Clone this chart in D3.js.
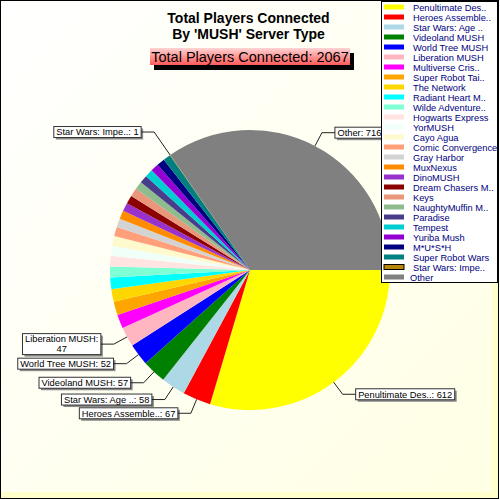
<!DOCTYPE html>
<html lang="en">
<head>
<meta charset="UTF-8">
<title>Total Players Connected</title>
<style>
  body { margin: 0; background: #fff; }
  svg { display: block; font-family: Arial, "Liberation Sans", sans-serif; }
</style>
</head>
<body>
<svg id="chart" width="500" height="500"></svg>
<script src="https://cdnjs.cloudflare.com/ajax/libs/d3/7.8.5/d3.min.js"></script>
<script>
// slice names as the legend shows them (already truncated)
const names = [
  "Penultimate Des..", "Heroes Assemble..", "Star Wars: Age ..", "Videoland MUSH",
  "World Tree MUSH", "Liberation MUSH", "Multiverse Cris..", "Super Robot Tai..",
  "The Network", "Radiant Heart M..", "Wilde Adventure..", "Hogwarts Express",
  "YorMUSH", "Cayo Agua", "Comic Convergence", "Gray Harbor", "MuxNexus",
  "DinoMUSH", "Dream Chasers M..", "Keys", "NaughtyMuffin M..", "Paradise",
  "Tempest", "Yuriba Mush", "M*U*S*H", "Super Robot Wars", "Star Wars: Impe..", "Other"
];
const players = [
  612, 67, 58, 57, 52, 47, 33, 32, 30, 28, 26, 25, 24, 23, 22, 21, 20,
  20, 20, 20, 19, 19, 19, 19, 19, 18, 1, 716
];
const colors = [
  "#ffff00", "#ff0000", "#add8e6", "#008000", "#0000ff", "#ffb6c1", "#ff00ff",
  "#ffa500", "#ffd700", "#00ffff", "#7fffd4", "#ffe4e1", "#f0fff8", "#fffacd",
  "#ffa07a", "#d3d3d3", "#ff8c00", "#9932cc", "#8b0000", "#e9967a", "#8fbc8f",
  "#483d8b", "#00ced1", "#9400d3", "#000080", "#008080", "#b8860b", "#808080"
];
// slices that get a callout label
const labeled = [
  "Penultimate Des..", "Heroes Assemble..", "Star Wars: Age ..", "Videoland MUSH",
  "World Tree MUSH", "Liberation MUSH", "Star Wars: Impe..", "Other"
];
const titleLines = ["Total Players Connected", "By 'MUSH' Server Type"];

const total = d3.sum(players);
const rows = names.map((n, i) => ({ name: n, value: players[i], color: colors[i] }));

const svg = d3.select("#chart");
const defs = svg.append("defs");

const bg = defs.append("linearGradient").attr("id", "bg")
  .attr("x1", 0).attr("y1", 0).attr("x2", 1).attr("y2", 1);
bg.append("stop").attr("offset", "0%").attr("stop-color", "#ffffff");
bg.append("stop").attr("offset", "100%").attr("stop-color", "#ffffe4");

const pinkGrad = defs.append("linearGradient").attr("id", "pink")
  .attr("x1", 0).attr("y1", 0).attr("x2", 0).attr("y2", 1);
pinkGrad.append("stop").attr("offset", "0%").attr("stop-color", "#ffd4d4");
pinkGrad.append("stop").attr("offset", "100%").attr("stop-color", "#ff5a5a");

// frame
svg.append("rect").attr("x", 0.5).attr("y", 0.5).attr("width", 498).attr("height", 498)
  .attr("fill", "#ffffcc").attr("stroke", "#000");
svg.append("rect").attr("x", 1).attr("y", 1).attr("width", 491).attr("height", 491)
  .attr("fill", "url(#bg)");

// title
svg.append("text")
  .attr("x", 248.5).attr("y", 23)
  .attr("text-anchor", "middle")
  .style("font-size", "14px").style("font-weight", "bold")
  .selectAll("tspan").data(titleLines).join("tspan")
  .attr("x", 248.5).attr("dy", (d, i) => i ? 16 : 0)
  .text(d => d);

// subtitle badge
svg.append("rect").attr("x", 154).attr("y", 53).attr("width", 200).attr("height", 17).attr("fill", "#000");
svg.append("rect").attr("x", 150).attr("y", 48).attr("width", 200).attr("height", 17).attr("fill", "url(#pink)");
svg.append("text").attr("x", 250).attr("y", 62).attr("text-anchor", "middle")
  .style("font-size", "14.5px")
  .text(`Total Players Connected: ${total}`);

// pie
const cx = 250, cy = 270, radius = 140;
const pie = d3.pie().value(d => d.value).sort(null)
  .startAngle(Math.PI / 2).endAngle(Math.PI / 2 + 2 * Math.PI);
const arc = d3.arc().innerRadius(0).outerRadius(radius);
const arcs = pie(rows);

const g = svg.append("g").attr("transform", `translate(${cx},${cy})`);
g.selectAll("path.slice").data(arcs).join("path")
  .attr("class", "slice")
  .attr("d", arc)
  .attr("fill", d => d.data.color);

// callout labels
const polar = (r, a) => [r * Math.sin(a), -r * Math.cos(a)];
const lab = g.append("g").style("font-size", "9.3px");
arcs.filter(d => labeled.includes(d.data.name)).forEach(d => {
  const m = (d.startAngle + d.endAngle) / 2;
  const p0 = polar(radius, m);
  const p1 = polar(d.data.value < 10 ? 168 : 155, m);
  const left = p1[0] < 0;
  const p2 = [p1[0] + (left ? -13 : 13), p1[1]];
  g.append("polyline")
    .attr("points", [p0, p1, p2].map(p => p.join(",")).join(" "))
    .attr("fill", "none").attr("stroke", "#222").attr("stroke-width", 1);

  let lines = [`${d.data.name}: ${d.data.value}`];
  const t = lab.append("text").text(lines[0]);
  let w = t.node().getComputedTextLength();
  if (left && cx + p2[0] - w - 5 < 16) {
    lines = [`${d.data.name}:`, `${d.data.value}`];
    t.text(lines[0]);
    w = t.node().getComputedTextLength();
  }
  t.remove();
  const bw = w + 5, bh = lines.length * 10 + 1;
  const bx = left ? p2[0] - bw : p2[0];
  const by = p2[1] - bh / 2;
  lab.append("rect").attr("x", bx + 2).attr("y", by + 2).attr("width", bw).attr("height", bh)
    .attr("fill", "#8a8a8a");
  lab.append("rect").attr("x", bx).attr("y", by).attr("width", bw).attr("height", bh)
    .attr("fill", "#fff").attr("stroke", "#333");
  lab.append("text")
    .attr("text-anchor", "middle")
    .selectAll("tspan").data(lines).join("tspan")
    .attr("x", bx + bw / 2)
    .attr("y", (s, i) => by + 8.8 + i * 10)
    .text(s => s);
});

// legend
const legend = svg.append("g");
legend.append("rect").attr("x", 381.5).attr("y", 1.5).attr("width", 116).attr("height", 281)
  .attr("fill", "#fff").attr("stroke", "#000");
const y = d3.scalePoint().domain(names).range([7, 277]);
const item = legend.selectAll("g.item").data(rows).join("g")
  .attr("class", "item")
  .attr("transform", d => `translate(0,${y(d.name)})`);
item.append("rect")
  .attr("x", 384).attr("y", -2.5).attr("width", 20).attr("height", 5)
  .attr("fill", d => d.color)
  .attr("stroke", d => d.name.startsWith("Star Wars: Impe") ? "#000" : "none");
item.append("text")
  .attr("x", d => d.name === "Other" ? 410 : 413).attr("y", 3.5)
  .style("font-size", "9.3px")
  .attr("fill", "#000080")
  .text(d => d.name);
</script>
</body>
</html>
